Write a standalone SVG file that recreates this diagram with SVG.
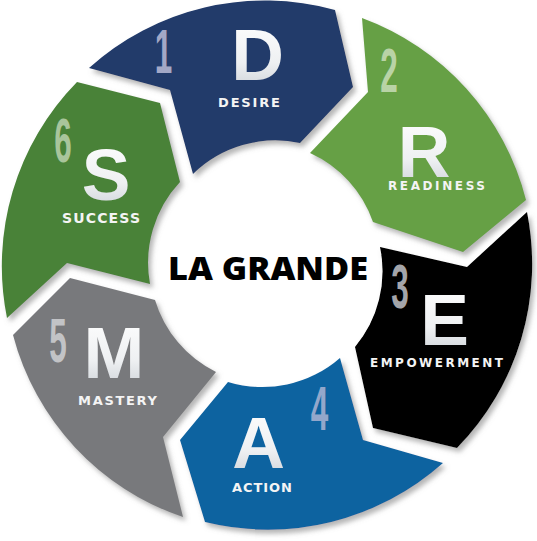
<svg xmlns="http://www.w3.org/2000/svg" width="537" height="541" viewBox="0 0 537 541">
<defs>
<linearGradient id="lg" x1="0" y1="0" x2="0" y2="1">
<stop offset="0" stop-color="#ffffff"/>
<stop offset="0.6" stop-color="#eef0f2"/>
<stop offset="1" stop-color="#c9ced4"/>
</linearGradient>
<filter id="sh" x="-10%" y="-10%" width="130%" height="130%">
<feDropShadow dx="3" dy="4" stdDeviation="2.5" flood-color="#7a7a7a" flood-opacity="0.55"/>
</filter>
</defs>
<style>
.seg{filter:url(#sh);}
.big{font-family:"Liberation Sans","DejaVu Sans",sans-serif;font-weight:bold;font-size:73px;fill:url(#lg);text-anchor:middle;}
.lbl{font-family:"DejaVu Sans","Liberation Sans",sans-serif;font-weight:bold;fill:#f4f4f4;text-anchor:middle;}
.num{font-family:"Liberation Sans","DejaVu Sans",sans-serif;font-weight:bold;font-size:63px;text-anchor:middle;}
.title{font-family:"Open Sans","Liberation Sans",sans-serif;font-weight:800;font-size:31px;fill:#000;text-anchor:middle;}
</style>
<rect width="537" height="541" fill="#ffffff"/>

<g id="node-desire">
<path class="seg" fill="#203a6b" d="M89,68 A263,263 0 0 1 335,10 L353,87 L300,143 A118,118 0 0 0 193,174 L170,90 Z"/>
<text class="num" fill="#a3a8c6" transform="translate(163.5,73) scale(0.5,1)">1</text>
<text class="big" x="257.5" y="80">D</text>
<text class="lbl" x="249" y="107" font-size="13" textLength="62" lengthAdjust="spacing">DESIRE</text>
</g>

<g id="node-readiness">
<path class="seg" fill="#66a044" d="M362,18 A263,263 0 0 1 526,200 L463,252 L373,222 A118,118 0 0 0 310,153 L368,92 Z"/>
<text class="num" fill="#b9d3a6" transform="translate(389,92) scale(0.5,1)">2</text>
<text class="big" x="424" y="177">R</text>
<text class="lbl" x="436.5" y="190" font-size="12" textLength="97" lengthAdjust="spacing">READINESS</text>
</g>

<g id="node-empowerment">
<path class="seg" fill="#030303" d="M527,212 A263,263 0 0 1 457,448 L373,428 L355,347 A118,118 0 0 0 380,247 L467,267 Z"/>
<text class="num" fill="#a4a5aa" transform="translate(400,308) scale(0.5,1)">3</text>
<text class="big" x="444.5" y="345">E</text>
<text class="lbl" x="436.5" y="367" font-size="12" textLength="133" lengthAdjust="spacing">EMPOWERMENT</text>
</g>

<g id="node-action">
<path class="seg" fill="#0e63a0" d="M443,463 A263,263 0 0 1 205,522 L180,440 L228,382 A118,118 0 0 0 340,358 L363,440 Z"/>
<text class="num" fill="#93a7cb" transform="translate(319.5,430) scale(0.5,1)">4</text>
<text class="big" x="258.5" y="468">A</text>
<text class="lbl" x="262" y="492" font-size="13" textLength="60" lengthAdjust="spacing">ACTION</text>
</g>

<g id="node-mastery">
<path class="seg" fill="#78797c" d="M183,517 A263,263 0 0 1 13,335 L70,278 L155,300 A118,118 0 0 0 216,372 L163,437 Z"/>
<text class="num" fill="#c2c3c6" transform="translate(58,362) scale(0.5,1)">5</text>
<text class="big" x="114" y="378">M</text>
<text class="lbl" x="117.5" y="405" font-size="13" textLength="79" lengthAdjust="spacing">MASTERY</text>
</g>

<g id="node-success">
<path class="seg" fill="#4a8238" d="M7,318 A263,263 0 0 1 77,82 L160,103 L180,182 A118,118 0 0 0 150,284 L67,263 Z"/>
<text class="num" fill="#a9c59b" transform="translate(63,162) scale(0.5,1)">6</text>
<text class="big" x="106" y="200">S</text>
<text class="lbl" x="101" y="223" font-size="14" textLength="78" lengthAdjust="spacing">SUCCESS</text>
</g>

<g id="node-center">
<text class="title" x="268" y="280" textLength="200" lengthAdjust="spacingAndGlyphs">LA GRANDE</text>
</g>
</svg>
